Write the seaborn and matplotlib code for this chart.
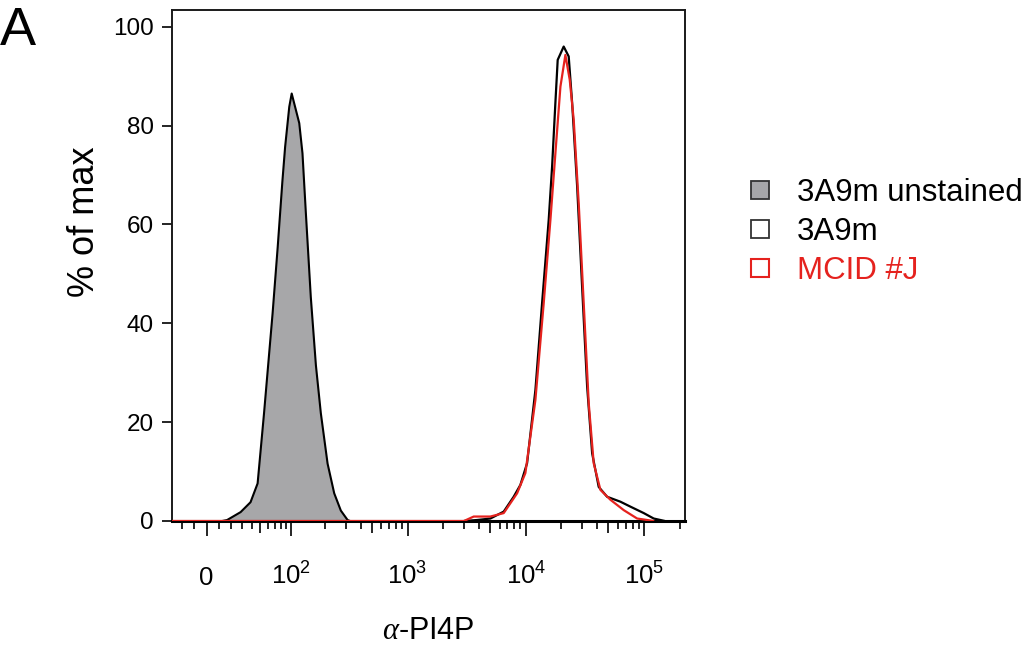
import numpy as np
import pandas as pd
import matplotlib
matplotlib.use("Agg")
import matplotlib.pyplot as plt
import seaborn as sns
from matplotlib.lines import Line2D

# %%
# Histogram traces (x = fluorescence, y = % of max)
unstained_x = [10, 16, 28, 38, 46, 54, 66, 74, 82, 87, 95, 100, 117, 125, 134,
               148, 164, 181, 207, 236, 269, 307, 330]
unstained_y = [0, 0.3, 1.9, 3.9, 7.7, 21.9, 42.1, 55.5, 68.8, 75.8, 83.9, 86.6,
               80.6, 74.5, 62.3, 45.4, 31.6, 21.9, 11.7, 5.7, 2.2, 0.3, 0]

stained_x = [3000, 3876, 5020, 6508, 7898, 9002, 10258, 12060, 13736, 15624,
             16692, 17796, 18614, 20920, 23060, 24660, 27180, 29940, 33020,
             36400, 41360, 48720, 63140, 76740, 99400, 120700, 137600, 150000]
stained_y = [0, 0.2, 0.5, 1.9, 4.9, 7.3, 11.7, 26.5, 44.1, 60.9, 71.7, 84.6,
             93.3, 96.0, 94.0, 84.6, 67.7, 47.4, 27.2, 13.7, 6.9, 4.9, 3.9, 2.9,
             1.6, 0.5, 0.2, 0]

mcid_x = [-29, 3000, 3628, 5020, 6508, 8444, 9922, 12060, 14180, 16150, 17796,
          19630, 21620, 23520, 25420, 28020, 30880, 34060, 37520, 42760, 51940,
          67300, 87400, 106100, 120000]
mcid_y = [0, 0, 0.9, 0.9, 1.6, 5.6, 9.7, 24.5, 44.1, 60.9, 74.4, 87.9, 94.3,
          89.3, 81.2, 64.3, 44.1, 23.8, 11.7, 6.3, 4.3, 2.2, 0.5, 0.2, 0]

labels = ["3A9m unstained", "3A9m", "MCID #J"]
major_ticks = [0, 100, 1000, 10000, 100000]
major_labels = ["0", r"$\mathregular{10^2}$", r"$\mathregular{10^3}$",
                r"$\mathregular{10^4}$", r"$\mathregular{10^5}$"]
minor_ticks = ([-20, -10] + list(range(10, 100, 10)) + list(range(200, 1000, 100))
               + list(range(2000, 10000, 1000)) + list(range(20000, 100000, 10000))
               + [200000])

gray = "#a7a7a9"
red = "#e5221e"

# %%
sns.set_theme(style="ticks")
plt.rcParams["font.family"] = ["Liberation Sans", "DejaVu Sans"]
plt.rcParams["mathtext.fontset"] = "custom"
plt.rcParams["mathtext.rm"] = "Liberation Sans"
plt.rcParams["mathtext.it"] = "Liberation Serif:italic"
for key in ("text.color", "axes.labelcolor", "xtick.color", "ytick.color",
            "xtick.labelcolor", "ytick.labelcolor"):
    plt.rcParams[key] = "black"

df = pd.concat([
    pd.DataFrame({"x": stained_x, "y": stained_y, "sample": labels[1]}),
    pd.DataFrame({"x": mcid_x, "y": mcid_y, "sample": labels[2]}),
])

fig = plt.figure(figsize=(10.27, 6.48), dpi=100)
ax = fig.add_axes([0.1675, 0.196, 0.4995, 0.7886])

ax.fill_between(unstained_x, unstained_y, color=gray, edgecolor="black",
                linewidth=1.5, zorder=2)
sns.lineplot(data=df, x="x", y="y", hue="sample", sort=False, estimator=None,
             palette={labels[1]: "black", labels[2]: red}, linewidth=1.6,
             legend=False, ax=ax, zorder=3)


# biexponential-like display scale
def fwd(v):
    return np.arcsinh(np.asarray(v) / 40.0)


def inv(v):
    return 40.0 * np.sinh(np.asarray(v))


ax.set_xscale("function", functions=(fwd, inv))
ax.set_xlim(-29, 222000)
ax.set_ylim(0, 103.4)

ax.set_xticks(major_ticks, labels=major_labels)
ax.set_xticks(minor_ticks, minor=True)
ax.set_yticks([0, 20, 40, 60, 80, 100])
ax.tick_params(axis="x", which="major", length=10.8, width=1.2, pad=35,
               labelsize=18.5, color="black")
ax.tick_params(axis="x", which="minor", length=5.8, width=1.2, color="black")
ax.tick_params(axis="y", length=7, width=1.2, pad=6, labelsize=17.5, color="black")
for lab in ax.get_xticklabels():
    lab.set_verticalalignment("baseline")
for loc, tick in zip(minor_ticks, ax.xaxis.get_minor_ticks()):
    if loc in (50, 500, 5000, 50000):
        tick.tick1line.set_markersize(8.6)

for side, sp in ax.spines.items():
    sp.set_color("#1a1a1a")
    sp.set_linewidth(1.4)
ax.spines["bottom"].set_linewidth(2.2)
ax.spines["bottom"].set_color("black")

ax.set_xlabel(r"$\alpha$-PI4P", fontsize=22, labelpad=19)
ax.set_ylabel("% of max", fontsize=26, labelpad=10)
ax.yaxis.set_label_coords(-0.136, 0.585)

handles = [
    Line2D([], [], ls="", marker="s", markersize=12.5, markerfacecolor=gray,
           markeredgecolor="#333333", markeredgewidth=1.3),
    Line2D([], [], ls="", marker="s", markersize=12.5, markerfacecolor="white",
           markeredgecolor="#333333", markeredgewidth=1.3),
    Line2D([], [], ls="", marker="s", markersize=12.5, markerfacecolor="white",
           markeredgecolor=red, markeredgewidth=1.5),
]
leg = fig.legend(handles, labels, loc="center left", bbox_to_anchor=(0.7274, 0.6420),
                 frameon=False, fontsize=22.5, handlelength=0.8, handletextpad=0.8,
                 labelspacing=0.28, borderpad=0, borderaxespad=0)
for txt, col in zip(leg.get_texts(), ["black", "black", red]):
    txt.set_color(col)

fig.text(0.0, 0.9306, "A", fontsize=39, va="baseline", ha="left", color="black")

fig.savefig("out.png", dpi=100)
